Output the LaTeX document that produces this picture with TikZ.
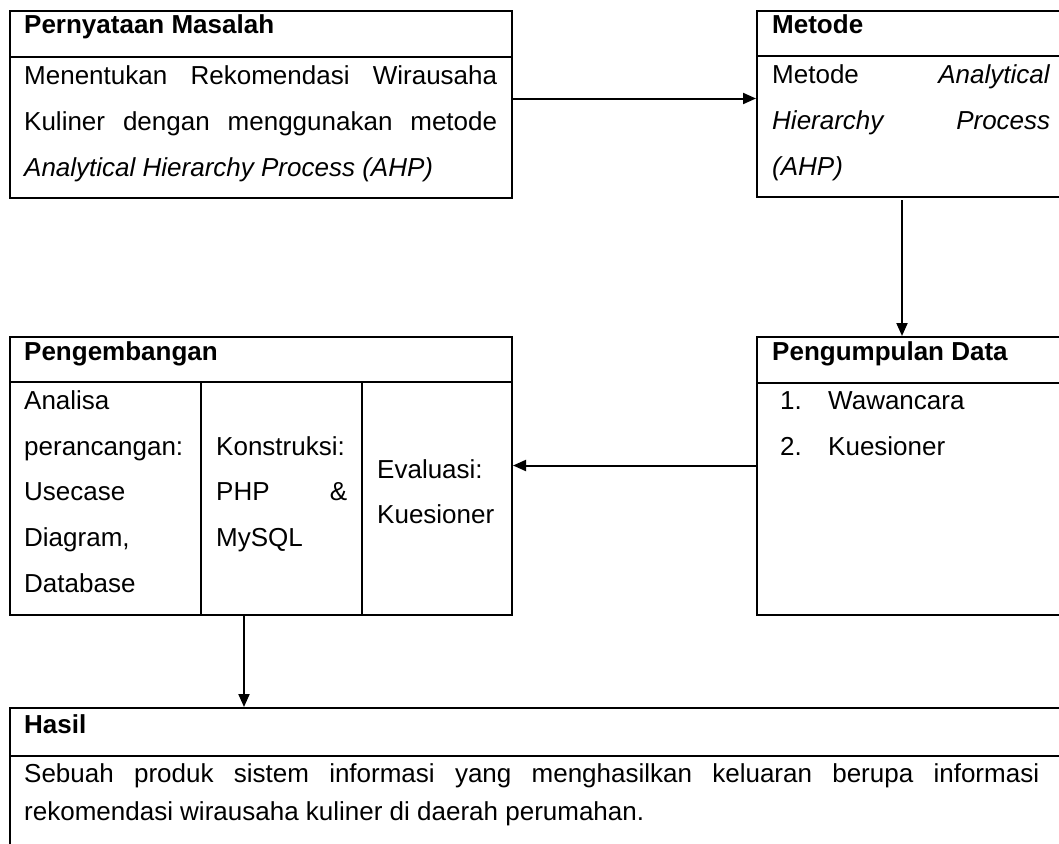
\documentclass[tikz,border=0pt]{standalone}
\usepackage{fontspec}
\setmainfont{Liberation Sans}
\usetikzlibrary{arrows.meta,calc}
\tikzset{
  box/.style={draw=black, line width=2pt, rectangle, inner sep=0pt, anchor=north west},
  divider/.style={draw=black, line width=2pt},
  arr/.style={draw=black, line width=2pt, -{Triangle[length=13pt,width=11pt]}},
  txt/.style={anchor=base west, inner sep=0pt, font=\fontsize{26}{46}\selectfont},
  head/.style={txt, font=\fontsize{26}{46}\selectfont\bfseries},
}
\begin{document}
\begin{tikzpicture}[x=1pt, y=-1pt]
\useasboundingbox (0,0) rectangle (1059,843);
\clip (0,0) rectangle (1059,843);
\fill[white] (0,0) rectangle (1059,843);

% boxes
\node[box, minimum width=502pt, minimum height=187pt] (pm) at (9,10) {};
\node[box, minimum width=308pt, minimum height=186pt] (met) at (756,10) {};
\node[box, minimum width=502pt, minimum height=278pt] (pg) at (9,336) {};
\node[box, minimum width=308pt, minimum height=278pt] (pd) at (756,336) {};
\node[box, minimum width=1070pt, minimum height=140pt] (hs) at (9,707) {};

% header dividers
\draw[divider] (pm.west |- 0,57) -- (pm.east |- 0,57);
\draw[divider] (met.west |- 0,56) -- (met.east |- 0,56);
\draw[divider] (pg.west |- 0,382) -- (pg.east |- 0,382);
\draw[divider] (pd.west |- 0,383) -- (pd.east |- 0,383);
\draw[divider] (hs.west |- 0,756) -- (hs.east |- 0,756);
% column dividers
\draw[divider] (201,382) -- (pg.south -| 201,0);
\draw[divider] (362,382) -- (pg.south -| 362,0);

% Pernyataan Masalah
\node[head] (pmh) at (24,34) {Pernyataan Masalah};
\node[txt] (pm1) at (24,84) {\makebox[473pt][s]{Menentukan Rekomendasi Wirausaha}};
\node[txt] (pm2) at (24,130) {\makebox[473pt][s]{Kuliner dengan menggunakan metode}};
\node[txt] (pm3) at (24,176) {\textit{Analytical Hierarchy Process (AHP)}};

% Metode
\node[head] (meth) at (772,34) {Metode};
\node[txt] (met1) at (772,83) {\makebox[278pt][s]{Metode \textit{Analytical}}};
\node[txt] (met2) at (772,129) {\makebox[278pt][s]{\textit{Hierarchy Process}}};
\node[txt] (met3) at (772,175) {\textit{(AHP)}};

% Pengumpulan Data
\node[head] (pdh) at (772,360) {Pengumpulan Data};
\node[txt] (pdn1) at (780,409) {1.};
\node[txt] (pd1) at (828,409) {Wawancara};
\node[txt] (pdn2) at (780,455) {2.};
\node[txt] (pd2) at (828,455) {Kuesioner};

% Pengembangan
\node[head] (pgh) at (24,360) {Pengembangan};
\node[txt] (a1) at (24,409) {Analisa};
\node[txt] (a2) at (24,455) {perancangan:};
\node[txt] (a3) at (24,500) {Usecase};
\node[txt] (a4) at (24,546) {Diagram,};
\node[txt] (a5) at (24,592) {Database};
\node[txt] (k1) at (216,455) {Konstruksi:};
\node[txt] (k2) at (216,500) {\makebox[131pt][s]{PHP \&}};
\node[txt] (k3) at (216,546) {MySQL};
\node[txt] (e1) at (377,478) {Evaluasi:};
\node[txt] (e2) at (377,523) {Kuesioner};

% Hasil
\node[head] (hsh) at (24,733) {Hasil};
\node[txt] (hs1) at (24,782) {\makebox[1015pt][s]{Sebuah produk sistem informasi yang menghasilkan keluaran berupa informasi}};
\node[txt] (hs2) at (24,820) {rekomendasi wirausaha kuliner di daerah perumahan.};

% connectors
\draw[arr] ([yshift=6pt]pm.east) -- ([yshift=6pt]pm.east -| met.west);
\draw[arr] ([xshift=-9pt,yshift=-2pt]met.south) -- ([xshift=-9pt]pd.north);
\draw[arr] ([yshift=10.5pt]pd.west) -- ([yshift=10.5pt]pd.west -| pg.east);
\draw[arr] ([xshift=-17pt]pg.south) -- ([xshift=-17pt]pg.south |- hs.north);
\end{tikzpicture}
\end{document}
